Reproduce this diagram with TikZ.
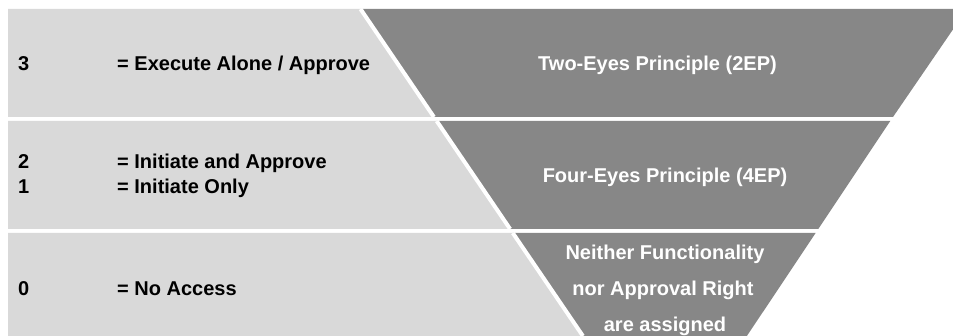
\documentclass[tikz,border=0pt]{standalone}
\usepackage{fontspec}
\setmainfont{Liberation Sans}
\definecolor{lightg}{RGB}{217,217,217}
\definecolor{darkg}{RGB}{135,135,135}
\tikzset{
  lbl/.style={font=\bfseries\fontsize{20}{24}\selectfont, anchor=base west, inner sep=0pt, text=black},
  wlbl/.style={font=\bfseries\fontsize{20}{24}\selectfont, anchor=base, inner sep=0pt, text=white},
  lightband/.style={fill=lightg, draw=none},
  darkband/.style={fill=darkg, draw=none},
  sepline/.style={draw=white, line width=4pt}
}
\begin{document}
\begin{tikzpicture}[x=1pt,y=-1pt]
\useasboundingbox (0,0) rectangle (953,336);
% band 1
\fill[lightband] (8,9) -- (360.5,9) -- (433.9,117) -- (8,117) -- cycle;
\fill[darkband] (360.5,9) -- (967,9) -- (893,117) -- (433.9,117) -- cycle;
\draw[sepline] (360.5,9) -- (433.9,117);
% band 2
\fill[lightband] (8,121) -- (436.7,121) -- (510.1,229) -- (8,229) -- cycle;
\fill[darkband] (436.7,121) -- (890.3,121) -- (818.3,229) -- (510.1,229) -- cycle;
\draw[sepline] (436.7,121) -- (510.1,229);
% band 3
\fill[lightband] (8,233) -- (512.8,233) -- (582.9,336) -- (8,336) -- cycle;
\fill[darkband] (512.8,233) -- (815.6,233) -- (746.9,336) -- (582.9,336) -- cycle;
\draw[sepline] (512.8,233) -- (582.9,336);
% left texts
\node[lbl] (n3) at (18,71) {3};
\node[lbl] (t3) at (117,71) {= Execute Alone / Approve};
\node[lbl] (n2) at (18,169) {2};
\node[lbl] (t2) at (117,169) {= Initiate and Approve};
\node[lbl] (n1) at (18,193.3) {1};
\node[lbl] (t1) at (117,193.3) {= Initiate Only};
\node[lbl] (n0) at (18,296) {0};
\node[lbl] (t0) at (117,296) {= No Access};
% right texts
\node[wlbl] (p2) at (657.5,71) {Two-Eyes Principle (2EP)};
\node[wlbl] (p4) at (665,183) {Four-Eyes Principle (4EP)};
\node[wlbl] (pa) at (665,260) {Neither Functionality};
\node[wlbl] (pb) at (663,296) {nor Approval Right};
\node[wlbl] (pc) at (665,331.5) {are assigned};
\end{tikzpicture}
\end{document}
